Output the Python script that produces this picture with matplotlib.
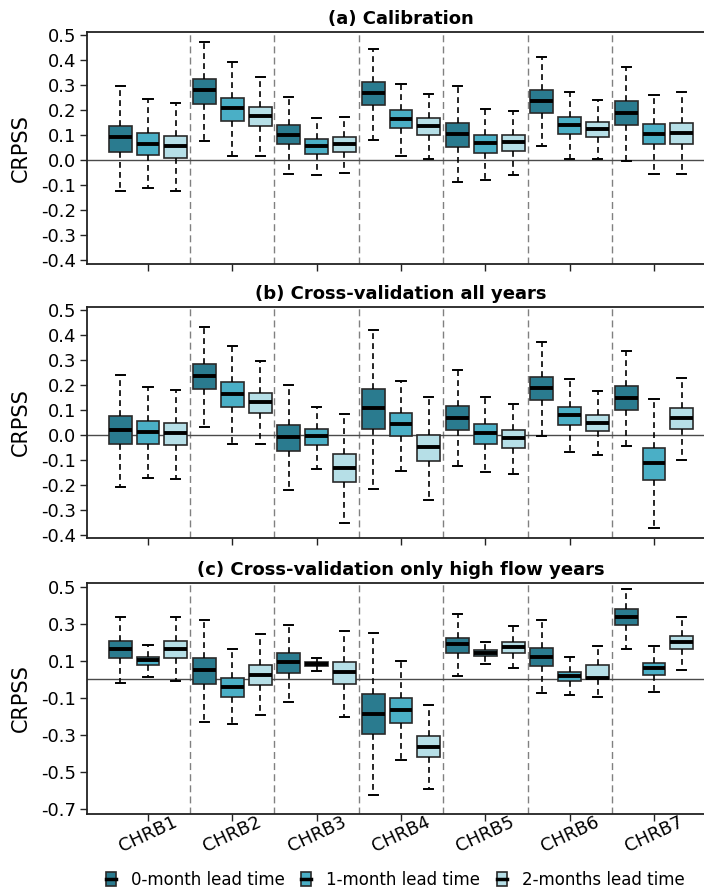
import numpy as np
import matplotlib.pyplot as plt
from matplotlib.patches import Patch
from matplotlib.lines import Line2D
from matplotlib.legend_handler import HandlerTuple

plt.rcParams["font.family"] = ["DejaVu Sans"]
plt.rcParams["axes.unicode_minus"] = False

# === DATA (box stats) ===
basins = ["CHRB1", "CHRB2", "CHRB3", "CHRB4", "CHRB5", "CHRB6", "CHRB7"]
leads = ["0-month lead time", "1-month lead time", "2-months lead time"]
titles = ["(a) Calibration", "(b) Cross-validation all years",
          "(c) Cross-validation only high flow years"]

# each row: one basin, values for lead 0 / 1 / 2
a_lo = [[-0.124, -0.112, -0.125], [0.076, 0.015, 0.016], [-0.055, -0.062, -0.051],
        [0.078, 0.017, 0.004], [-0.090, -0.080, -0.059], [0.056, 0.003, 0.004],
        [-0.005, -0.056, -0.057]]
a_q1 = [[0.033, 0.021, 0.009], [0.225, 0.157, 0.136], [0.062, 0.025, 0.033],
        [0.218, 0.126, 0.101], [0.053, 0.028, 0.037], [0.189, 0.102, 0.090],
        [0.138, 0.064, 0.065]]
a_med = [[0.090, 0.064, 0.056], [0.279, 0.206, 0.176], [0.101, 0.057, 0.064],
         [0.267, 0.165, 0.137], [0.104, 0.066, 0.072], [0.234, 0.140, 0.122],
         [0.189, 0.105, 0.109]]
a_q3 = [[0.137, 0.108, 0.096], [0.324, 0.249, 0.213], [0.138, 0.084, 0.090],
        [0.312, 0.198, 0.166], [0.149, 0.100, 0.101], [0.278, 0.170, 0.152],
        [0.237, 0.142, 0.149]]
a_hi = [[0.295, 0.242, 0.229], [0.471, 0.391, 0.332], [0.253, 0.169, 0.173],
        [0.445, 0.303, 0.263], [0.295, 0.205, 0.197], [0.410, 0.271, 0.238],
        [0.372, 0.259, 0.271]]

b_lo = [[-0.209, -0.173, -0.175], [0.031, -0.036, -0.036], [-0.220, -0.135, -0.352],
        [-0.216, -0.144, -0.259], [-0.123, -0.148, -0.156], [-0.003, -0.067, -0.081],
        [-0.044, -0.372, -0.099]]
b_q1 = [[-0.037, -0.035, -0.041], [0.183, 0.112, 0.087], [-0.064, -0.039, -0.188],
        [0.025, -0.005, -0.104], [0.020, -0.035, -0.051], [0.140, 0.041, 0.015],
        [0.100, -0.179, 0.025]]
b_med = [[0.019, 0.013, 0.007], [0.237, 0.165, 0.131], [-0.007, -0.003, -0.131],
         [0.109, 0.044, -0.049], [0.069, 0.007, -0.013], [0.189, 0.080, 0.049],
         [0.149, -0.112, 0.068]]
b_q3 = [[0.075, 0.057, 0.048], [0.285, 0.212, 0.169], [0.041, 0.023, -0.077],
        [0.184, 0.087, -0.001], [0.115, 0.043, 0.020], [0.233, 0.113, 0.079],
        [0.196, -0.051, 0.108]]
b_hi = [[0.241, 0.192, 0.180], [0.432, 0.355, 0.296], [0.200, 0.113, 0.085],
        [0.420, 0.216, 0.152], [0.260, 0.151, 0.123], [0.372, 0.223, 0.175],
        [0.337, 0.143, 0.229]]

c_lo = [[-0.017, 0.012, -0.008], [-0.230, -0.244, -0.192], [-0.120, 0.044, -0.206],
        [-0.628, -0.437, -0.592], [0.021, 0.084, 0.059], [-0.073, -0.084, -0.093],
        [0.167, -0.071, 0.053]]
c_q1 = [[0.116, 0.077, 0.118], [-0.024, -0.093, -0.030], [0.037, 0.071, -0.026],
        [-0.298, -0.237, -0.423], [0.145, 0.129, 0.143], [0.071, -0.008, 0.000],
        [0.294, 0.026, 0.165]]
c_med = [[0.165, 0.105, 0.167], [0.051, -0.039, 0.024], [0.093, 0.082, 0.039],
         [-0.186, -0.167, -0.365], [0.190, 0.143, 0.174], [0.120, 0.019, 0.010],
         [0.339, 0.059, 0.205]]
c_q3 = [[0.206, 0.122, 0.210], [0.118, 0.010, 0.080], [0.143, 0.093, 0.095],
        [-0.080, -0.102, -0.307], [0.226, 0.158, 0.203], [0.170, 0.042, 0.078],
        [0.379, 0.087, 0.237]]
c_hi = [[0.336, 0.185, 0.338], [0.322, 0.165, 0.244], [0.295, 0.118, 0.262],
        [0.252, 0.100, -0.138], [0.356, 0.203, 0.289], [0.322, 0.122, 0.181],
        [0.491, 0.181, 0.336]]

a_yticks = [0.5, 0.4, 0.3, 0.2, 0.1, 0.0, -0.1, -0.2, -0.3, -0.4]
b_yticks = [0.5, 0.4, 0.3, 0.2, 0.1, 0.0, -0.1, -0.2, -0.3, -0.4]
c_yticks = [0.5, 0.3, 0.1, -0.1, -0.3, -0.5, -0.7]

# === STYLE ===
colors = ["#2a7b8f", "#4aafc6", "#b6dfe7"]
edge = "#2a2a2a"
offsets = [-0.33, 0.0, 0.33]
box_w = 0.27

panels = [
    (a_lo, a_q1, a_med, a_q3, a_hi, a_yticks, (-0.416, 0.511)),
    (b_lo, b_q1, b_med, b_q3, b_hi, b_yticks, (-0.413, 0.513)),
    (c_lo, c_q1, c_med, c_q3, c_hi, c_yticks, (-0.729, 0.522)),
]

W, H = 704, 890
fig = plt.figure(figsize=(W / 100, H / 100), dpi=100)

# axes boxes in pixels: (top, bottom)
ax_px = [(32, 264), (307, 538), (583, 814)]
left_px, right_px = 87, 715

x = np.arange(len(basins))
for p, (lo, q1, med, q3, hi, yt, ylim) in enumerate(panels):
    top, bot = ax_px[p]
    ax = fig.add_axes([left_px / W, 1 - bot / H, (right_px - left_px) / W, (bot - top) / H])

    for j in range(3):
        stats = []
        for i in range(len(basins)):
            stats.append(dict(whislo=lo[i][j], q1=q1[i][j], med=med[i][j],
                              q3=q3[i][j], whishi=hi[i][j]))
        ax.bxp(stats, positions=x + offsets[j], widths=box_w, patch_artist=True,
               showfliers=False, manage_ticks=False, capwidths=0.11,
               boxprops=dict(facecolor=colors[j], edgecolor=edge, linewidth=1.2),
               medianprops=dict(color="black", linewidth=2.8, solid_capstyle="butt"),
               whiskerprops=dict(color="black", linestyle=(0, (3.5, 2.5)), linewidth=1.2),
               capprops=dict(color="black", linewidth=1.4),
               zorder=3)

    for g in range(len(basins) - 1):
        ax.axvline(g + 0.5, color="#808080", linestyle=(0, (5, 3)), linewidth=1, zorder=1)
    ax.axhline(0, color="#4a4a4a", linewidth=1, zorder=2)

    ax.set_xlim(-0.723, 6.723)
    ax.set_ylim(*ylim)
    ax.set_yticks(yt)
    ax.set_yticklabels([f"{v:.1f}" for v in yt], fontsize=13)
    ax.set_xticks(x)
    ax.tick_params(axis="both", direction="out", length=5, width=1, color="#222222", pad=3)
    if p == 2:
        ax.set_xticklabels(basins, rotation=25, ha="center", va="top", fontsize=13)
        ax.tick_params(axis="x", pad=-6)
    else:
        ax.set_xticklabels([])

    for s in ["left", "bottom", "top"]:
        ax.spines[s].set_linewidth(1.3)
        ax.spines[s].set_color("#222222")
    ax.spines["right"].set_visible(False)

    ax.set_title(titles[p], fontsize=13, fontweight="bold", pad=6)
    ax.set_ylabel("CRPSS", fontsize=15)
    ax.yaxis.set_label_coords(-0.09, 0.5)

# === LEGEND ===
handles = [(Patch(facecolor=c, edgecolor=edge, linewidth=1.2),
            Line2D([], [], color="black", linewidth=2.5)) for c in colors]
fig.legend(handles=handles, labels=leads, loc="center",
           bbox_to_anchor=(395 / W, 1 - 880 / H), ncol=3, frameon=False,
           handler_map={tuple: HandlerTuple(ndivide=1, pad=0)},
           handlelength=0.6, handleheight=0.9, handletextpad=0.9,
           columnspacing=1.0, fontsize=12)

fig.savefig("out.png", dpi=100)
